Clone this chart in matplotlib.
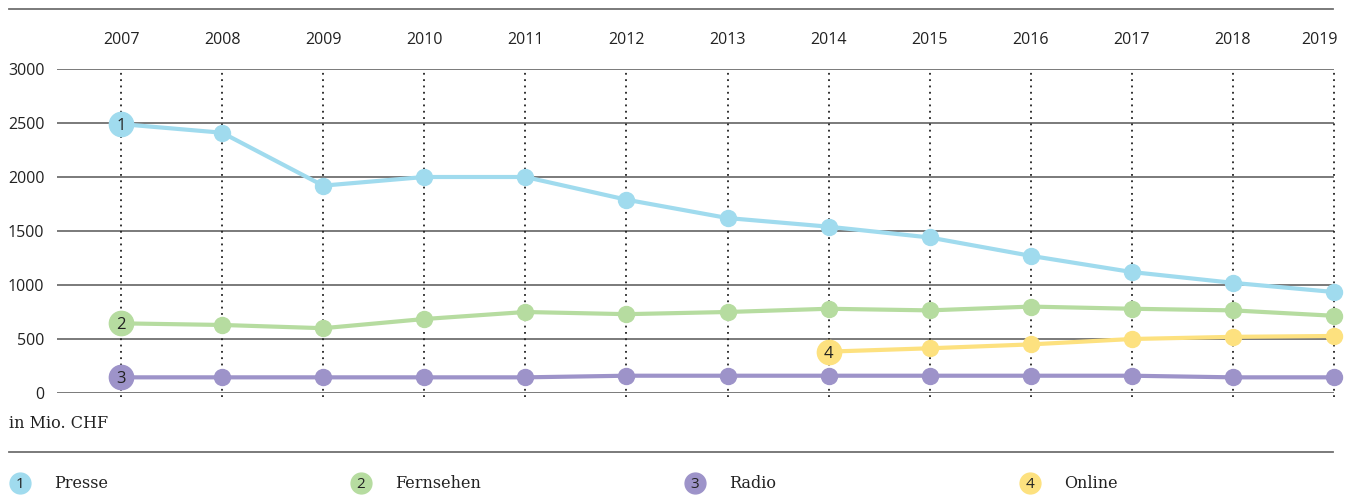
import matplotlib
matplotlib.use("Agg")
import matplotlib.pyplot as plt
from matplotlib.lines import Line2D
import matplotlib.transforms as mtransforms

years = list(range(2007, 2020))
presse = [2490, 2410, 1920, 2000, 2000, 1790, 1620, 1540, 1440, 1270, 1120, 1020, 935]
fernsehen = [645, 630, 600, 685, 750, 730, 750, 780, 765, 800, 780, 765, 715]
radio = [145, 145, 145, 145, 145, 160, 160, 160, 160, 160, 160, 145, 145]
online_years = [2014, 2015, 2016, 2017, 2018, 2019]
online = [383, 414, 450, 500, 520, 528]
y_ticks = [0, 500, 1000, 1500, 2000, 2500, 3000]

series = [
    ("1", "Presse", years, presse, "#a0dbee"),
    ("2", "Fernsehen", years, fernsehen, "#b6dca0"),
    ("3", "Radio", years, radio, "#9d93c9"),
    ("4", "Online", online_years, online, "#fde17f"),
]

W, H = 1349, 497
fig = plt.figure(figsize=(W / 100, H / 100), dpi=100)
ax = fig.add_axes([57 / W, 1 - 393 / H, (1334 - 57) / W, (393 - 69) / H])
ax.set_xlim(2007 - 64 / 101.08, 2019)
ax.set_ylim(0, 3000)
for s in ax.spines.values():
    s.set_visible(False)
ax.set_xticks([])
ax.set_yticks(y_ticks)
ax.set_yticklabels([str(v) for v in y_ticks], fontsize=11.5, family="Open Sans", color="#222222")
ax.tick_params(axis="y", length=0, pad=9)

for v in y_ticks:
    ax.axhline(v, color="#707070", lw=1.3, zorder=1)

trans_dot = mtransforms.blended_transform_factory(ax.transData, ax.transAxes)
for yr in years:
    ax.plot([yr, yr], [-0.012, 1.0], transform=trans_dot, color="#222222",
            ls=(0, (1, 2.5)), lw=1.3, zorder=2, clip_on=False)
    ha = "right" if yr == 2019 else "center"
    xoff = 4 if yr == 2019 else 0
    ax.annotate(str(yr), (yr, 1), xycoords=trans_dot, xytext=(xoff, 29),
                textcoords="offset pixels", ha=ha, va="center", fontsize=11.5,
                family="Open Sans", color="#222222")

for num, name, xs, ys, col in series:
    ax.plot(xs, ys, color=col, lw=3, marker="o", ms=11.5, mec=col, mfc=col,
            zorder=3, clip_on=False)
    ax.plot(xs[0], ys[0], "o", color=col, ms=17.5, zorder=4, clip_on=False)
    ax.text(xs[0], ys[0], num, ha="center", va="center_baseline", fontsize=12,
            family="Open Sans", color="#222222", zorder=5)

# frame lines and captions
fig.add_artist(Line2D([9 / W, 1333 / W], [1 - 9 / H, 1 - 9 / H], color="#707070", lw=1.3))
fig.add_artist(Line2D([9 / W, 1333 / W], [1 - 452 / H, 1 - 452 / H], color="#707070", lw=1.3))
fig.text(9 / W, 1 - 424 / H, "in Mio. CHF", ha="left", va="center", fontsize=11.5,
         family="DejaVu Serif", color="#222222")

legend_x = [20, 361, 695, 1030]
for (num, name, xs, ys, col), lx in zip(series, legend_x):
    yy = 1 - 483 / H
    fig.add_artist(Line2D([lx / W], [yy], marker="o", ms=15, color=col, lw=0))
    fig.text(lx / W, yy, num, ha="center", va="center_baseline", fontsize=11,
             family="Open Sans", color="#222222")
    fig.text((lx + 34) / W, yy, name, ha="left", va="center", fontsize=11.5,
             family="DejaVu Serif", color="#222222")

fig.savefig("out.png", dpi=100)
